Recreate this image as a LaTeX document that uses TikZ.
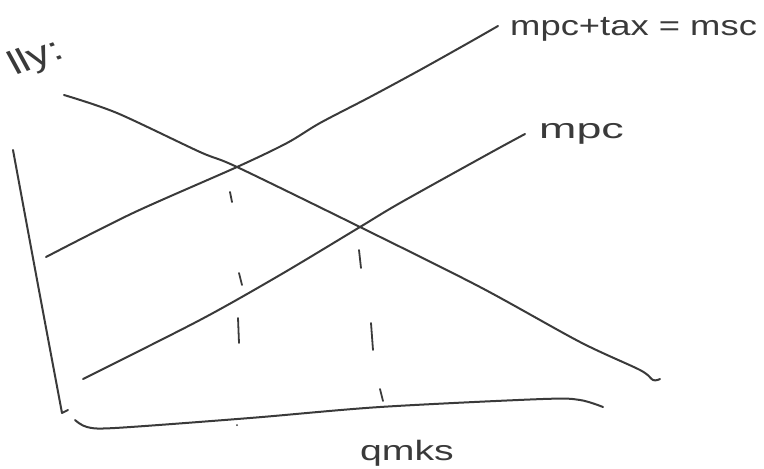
\documentclass[tikz,border=0pt]{standalone}
\usepackage{fontspec}
\setmainfont{Liberation Sans}
\usepackage{graphicx}
\usetikzlibrary{positioning}
\definecolor{pen}{HTML}{3A3A3A}
\tikzset{
  stroke/.style={draw=pen, line width=2pt, line cap=round, line join=round},
  tick/.style={draw=pen, line width=1.8pt, line cap=round},
  hand/.style={text=pen, font=\fontsize{28}{30}\selectfont, inner sep=0pt},
}

\begin{document}
\begin{tikzpicture}[x=1pt, y=-1pt]
  \useasboundingbox (0,0) rectangle (764,469);
  % axes
  \draw[stroke] plot[smooth] coordinates {(13,150) (38,285) (62,413)} -- (68,410);
  \draw[stroke] plot[smooth] coordinates {(75,420) (87,427) (115,428) (250,418) (380,407) (543,399) (580,400) (603,407)};
  % demand
  \draw[stroke] plot[smooth] coordinates {(64,95) (117,113) (200,152) (237,167) (360,227) (480,287) (580,342) (640,370) (653,380) (660,379)};
  % mpc + tax = msc
  \coordinate (msc end) at (498,26);
  \draw[stroke] plot[smooth] coordinates {(46,257) (133,213) (237,167) (287,143) (320,123) (370,97) (420,70) (470,42) (msc end)};
  \node[hand, anchor=west, right=12pt of msc end, yshift=-3pt] (msc lab) {\scalebox{1.3}[1]{mpc+tax = msc}};
  % mpc
  \coordinate (mpc end) at (525,134);
  \draw[stroke] plot[smooth] coordinates {(83,379) (200,320) (280,275) (360,227) (400,203) (490,153) (mpc end)};
  \node[hand, anchor=west, right=14pt of mpc end] (mpc lab) {\scalebox{1.6}[1]{mpc}};
  % dashed guides
  \draw[tick] (230,192) -- (232,202);
  \draw[tick] (239,273) -- (242,285);
  \draw[tick] (238,318) -- (239,343);
  \fill[pen] (237,425) circle (1pt);
  \draw[tick] (359,250) -- (361,268);
  \draw[tick] (371,323) -- (373,350);
  \draw[tick] (380,389) -- (383,401);
  % labels
  \node[hand] (qty lab) at (407,453) {\scalebox{1.4}[1]{qmks}};
  \begin{scope}[shift={(66,57)}, rotate=20, xslant=-0.15, transform shape]
    \node[hand, anchor=base east, font=\fontsize{34}{36}\selectfont] (head lab) at (0,0) {\scalebox{1.3}[1]{lly:}};
  \end{scope}
\end{tikzpicture}
\end{document}
